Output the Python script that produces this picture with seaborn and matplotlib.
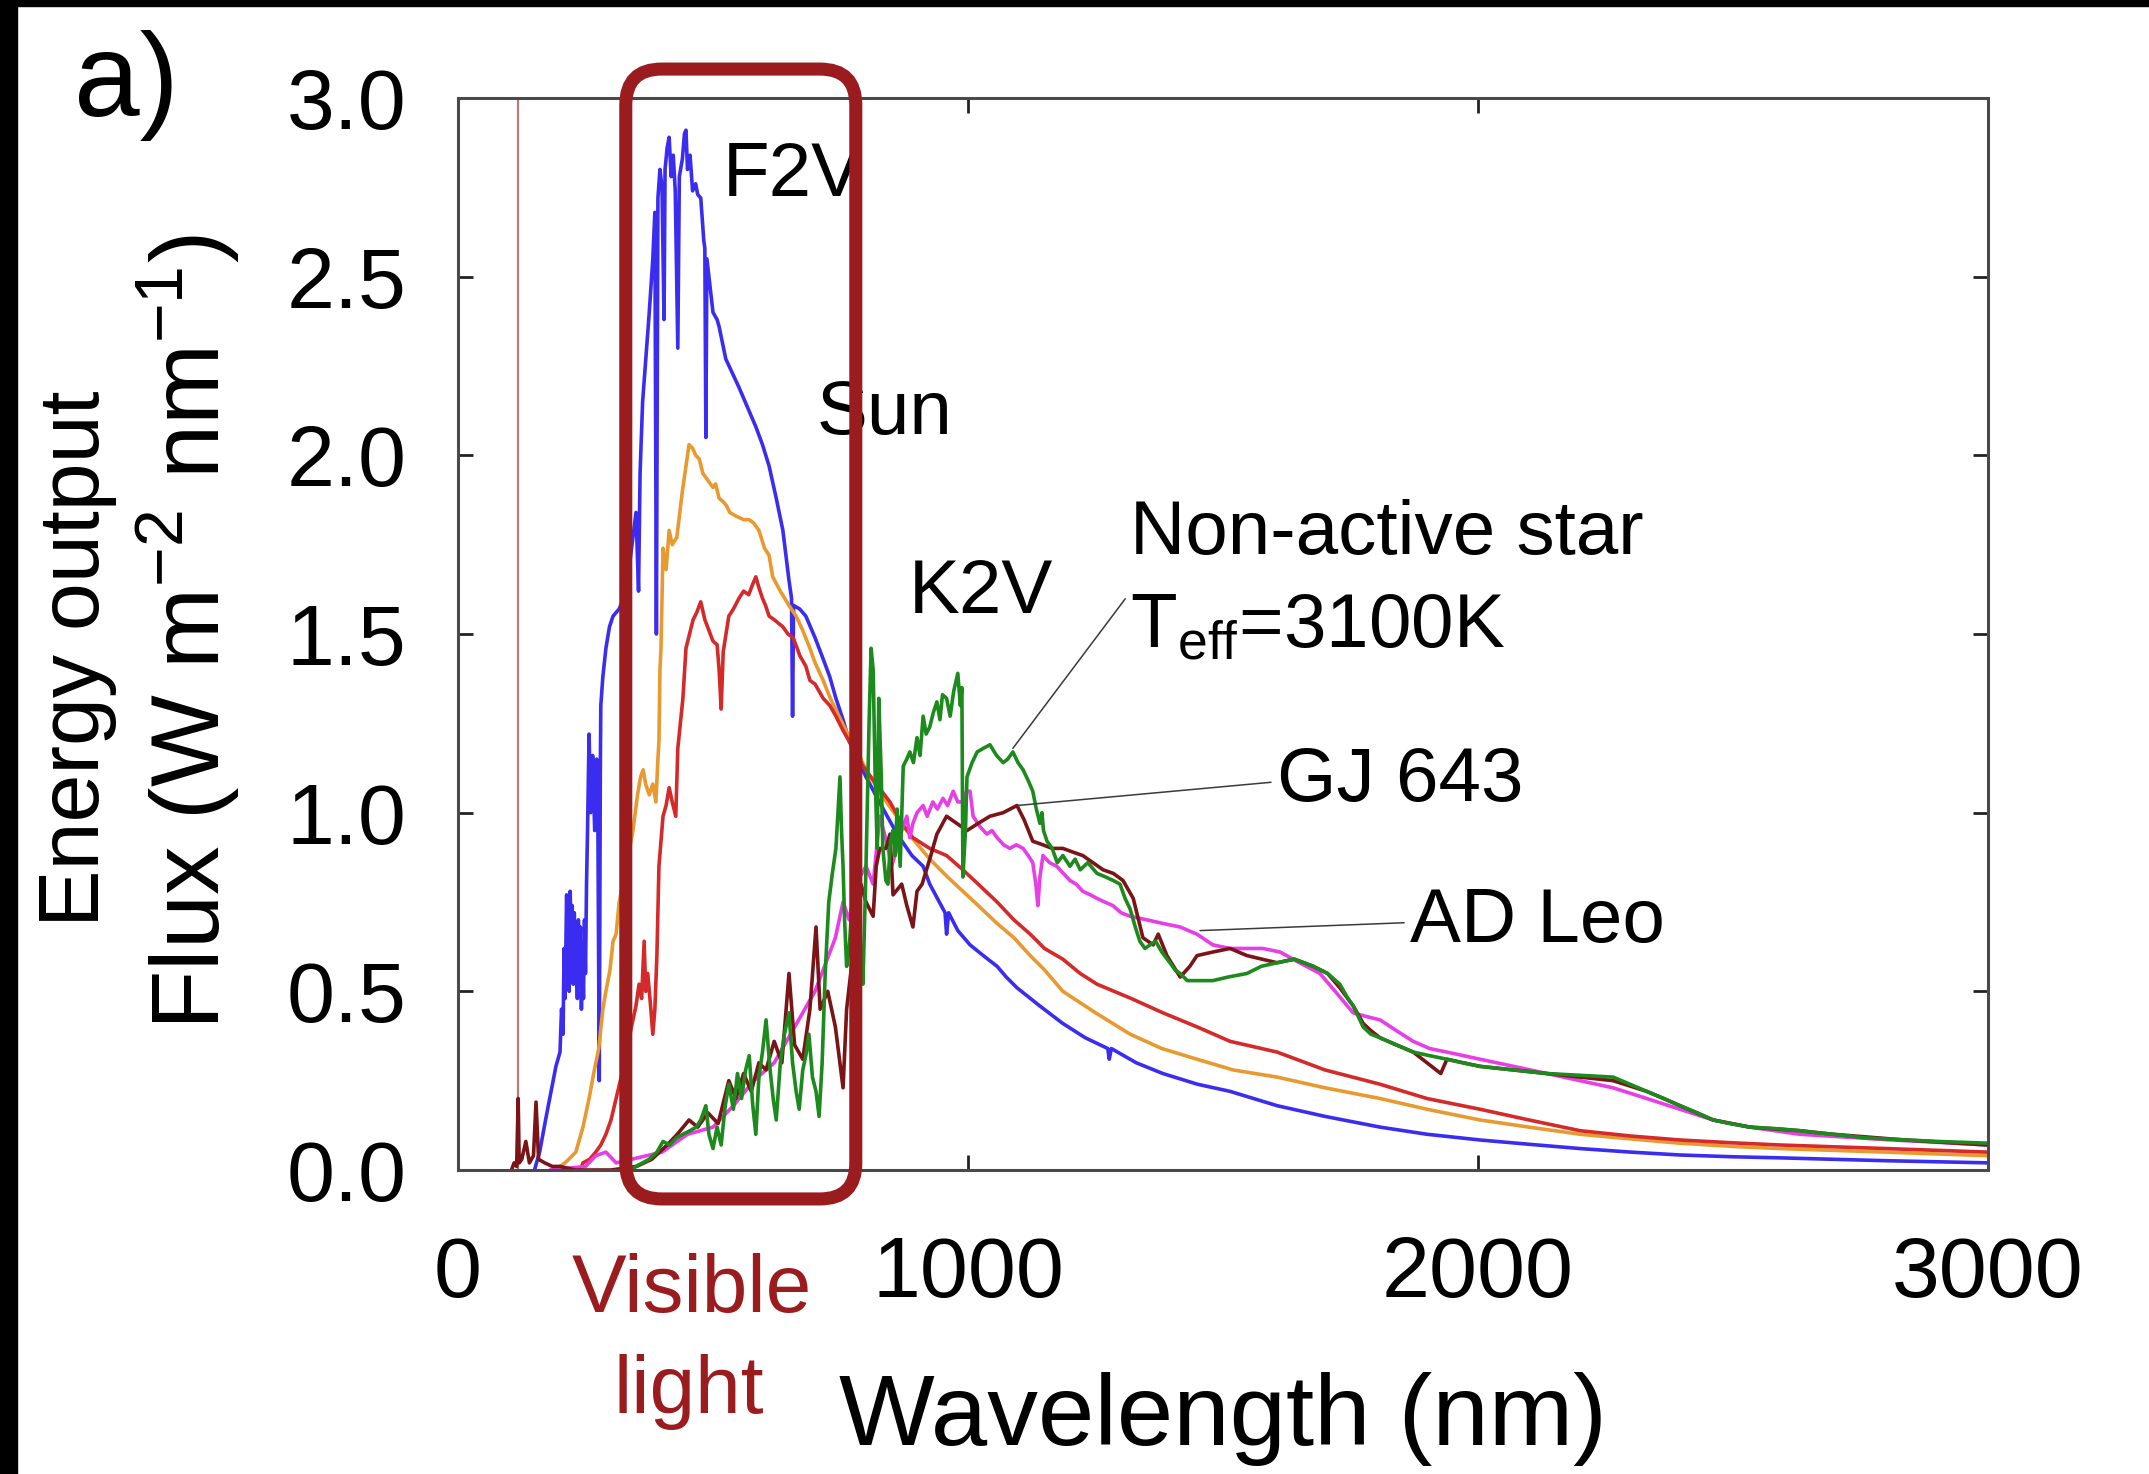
import pandas as pd
import seaborn as sns
import matplotlib.pyplot as plt
from matplotlib.patches import FancyBboxPatch, Rectangle
from matplotlib.transforms import IdentityTransform

# Spectra: (wavelength nm, flux W m-2 nm-1) ###################################

f2v = [(150, 0.0), (160, 0.05), (173, 0.15), (192, 0.29), (200, 0.33), (203, 0.45),
       (206, 0.38), (208, 0.62), (210, 0.48), (213, 0.77), (215, 0.55), (216, 0.70),
       (218, 0.50), (220, 0.78), (222, 0.58), (224, 0.74), (226, 0.52), (228, 0.72),
       (230, 0.60), (232, 0.66), (234, 0.48), (236, 0.70), (238, 0.55), (240, 0.68),
       (242, 0.45), (244, 0.62), (246, 0.48), (248, 0.70), (250, 0.55), (252, 0.80),
       (254, 0.95), (257, 1.22), (260, 1.00), (264, 1.16), (268, 0.95), (272, 1.15),
       (274, 1.05), (277, 0.25), (279, 1.10), (280, 1.30),
       (284, 1.38), (290, 1.46), (297, 1.52), (304, 1.55), (316, 1.57), (330, 1.62),
       (349, 1.84), (354, 1.62), (357, 1.95), (362, 2.15), (375, 2.40), (382, 2.55),
       (386, 2.68), (389, 1.50), (392, 2.72), (396, 2.80), (400, 2.75), (404, 2.38),
       (406, 2.80), (410, 2.86), (414, 2.89), (418, 2.78), (422, 2.84), (426, 2.74),
       (431, 2.30), (434, 2.78), (440, 2.83), (444, 2.90), (447, 2.91), (450, 2.80),
       (455, 2.84), (460, 2.74), (466, 2.76), (470, 2.73), (476, 2.72), (482, 2.60),
       (484, 2.58), (486, 2.05), (488, 2.55), (492, 2.50), (500, 2.40), (508, 2.38),
       (512, 2.36), (525, 2.27), (538, 2.23), (551, 2.19), (566, 2.14), (584, 2.08),
       (597, 2.03), (610, 1.97), (624, 1.88), (637, 1.79), (649, 1.65), (654, 1.60),
       (656, 1.27), (658, 1.58), (670, 1.57), (682, 1.55), (700, 1.49), (716, 1.43),
       (729, 1.38), (741, 1.32), (755, 1.26), (767, 1.20), (780, 1.16), (800, 1.10),
       (830, 1.02), (861, 0.94), (890, 0.88), (912, 0.85), (925, 0.80), (940, 0.76),
       (955, 0.72), (958, 0.66), (962, 0.72), (980, 0.67), (1004, 0.63), (1030, 0.60),
       (1057, 0.57), (1075, 0.54), (1096, 0.51), (1140, 0.46), (1186, 0.41), (1230, 0.37),
       (1274, 0.34), (1277, 0.31), (1281, 0.34), (1330, 0.30), (1382, 0.27), (1450, 0.24),
       (1514, 0.22), (1606, 0.18), (1700, 0.15), (1808, 0.12), (1900, 0.10), (2004, 0.084),
       (2100, 0.072), (2200, 0.06), (2300, 0.05), (2396, 0.042), (2500, 0.037),
       (2592, 0.034), (2800, 0.026), (3000, 0.02)]

sun = [(190, 0.0), (210, 0.02), (231, 0.05), (245, 0.12), (257, 0.20), (266, 0.27),
       (276, 0.34), (284, 0.45), (290, 0.50), (298, 0.56), (304, 0.64), (310, 0.66),
       (316, 0.75), (330, 0.85), (343, 0.95), (352, 1.05), (358, 1.10), (363, 1.12),
       (368, 1.08), (375, 1.05), (382, 1.08), (388, 1.03), (392, 1.15), (394, 1.20),
       (396, 1.40), (398, 1.46), (402, 1.74), (408, 1.68), (414, 1.79), (420, 1.75),
       (429, 1.77), (440, 1.90), (447, 1.97), (453, 2.03), (460, 2.02), (466, 2.00),
       (473, 1.99), (480, 1.95), (490, 1.93), (500, 1.91), (505, 1.92), (512, 1.88),
       (520, 1.87), (526, 1.86), (533, 1.84), (545, 1.83), (560, 1.82), (571, 1.82),
       (580, 1.81), (590, 1.79), (601, 1.74), (610, 1.72), (617, 1.66), (632, 1.62),
       (649, 1.58), (663, 1.55), (676, 1.51), (690, 1.46), (700, 1.42), (716, 1.37),
       (730, 1.32), (747, 1.27), (764, 1.22), (780, 1.18), (800, 1.12), (830, 1.05),
       (860, 0.99), (890, 0.93), (925, 0.87), (960, 0.82), (990, 0.78), (1020, 0.74),
       (1057, 0.69), (1090, 0.65), (1122, 0.60), (1150, 0.56), (1186, 0.50), (1250, 0.44),
       (1318, 0.38), (1380, 0.34), (1449, 0.31), (1520, 0.28), (1606, 0.26), (1700, 0.23),
       (1808, 0.20), (1900, 0.17), (2004, 0.14), (2100, 0.12), (2200, 0.10), (2300, 0.087),
       (2396, 0.075), (2500, 0.066), (2592, 0.06), (2800, 0.05), (3000, 0.04)]

k2v = [(240, 0.0), (245, 0.02), (258, 0.03), (270, 0.05), (280, 0.07), (290, 0.10),
       (300, 0.14), (310, 0.20), (320, 0.26), (330, 0.33), (340, 0.40), (349, 0.46),
       (355, 0.52), (360, 0.48), (365, 0.64), (368, 0.50), (372, 0.55), (377, 0.47),
       (382, 0.38), (386, 0.45), (390, 0.60), (394, 0.85), (398, 0.92), (402, 0.99),
       (408, 1.02), (414, 1.07), (420, 1.03), (427, 0.99), (431, 1.18), (436, 1.25),
       (441, 1.32), (447, 1.46), (454, 1.50), (461, 1.54), (468, 1.56), (476, 1.59),
       (484, 1.54), (492, 1.51), (500, 1.48), (508, 1.47), (512, 1.40), (516, 1.29),
       (520, 1.45), (531, 1.55), (540, 1.57), (551, 1.60), (560, 1.62), (570, 1.61),
       (578, 1.64), (584, 1.66), (590, 1.63), (597, 1.60), (603, 1.58), (610, 1.55),
       (620, 1.54), (637, 1.52), (647, 1.50), (657, 1.49), (665, 1.46), (670, 1.44),
       (682, 1.41), (690, 1.37), (700, 1.36), (716, 1.32), (729, 1.30), (741, 1.27),
       (755, 1.23), (767, 1.20), (780, 1.17), (794, 1.13), (820, 1.08), (847, 1.03),
       (870, 0.97), (892, 0.93), (925, 0.90), (958, 0.88), (990, 0.84), (1020, 0.80),
       (1057, 0.75), (1090, 0.70), (1122, 0.66), (1150, 0.62), (1186, 0.59), (1220, 0.55),
       (1253, 0.52), (1320, 0.48), (1382, 0.44), (1450, 0.40), (1514, 0.36), (1606, 0.33),
       (1700, 0.28), (1808, 0.24), (1900, 0.20), (2004, 0.17), (2100, 0.14), (2200, 0.11),
       (2300, 0.095), (2396, 0.084), (2500, 0.076), (2592, 0.07), (2800, 0.06), (3000, 0.05)]

ad_leo = [(180, 0.0), (250, 0.01), (270, 0.04), (290, 0.05), (310, 0.02), (400, 0.05),
          (450, 0.10), (500, 0.12), (540, 0.18), (580, 0.25), (620, 0.30), (660, 0.40),
          (700, 0.50), (740, 0.65), (755, 0.75), (767, 0.70), (780, 0.80), (800, 0.85),
          (814, 0.80), (827, 0.99), (840, 0.92), (850, 0.85), (861, 0.90), (870, 0.95),
          (880, 0.99), (886, 0.93), (892, 0.97), (900, 1.00), (912, 1.02), (920, 0.99),
          (931, 1.03), (940, 1.01), (951, 1.04), (960, 1.02), (971, 1.06), (980, 1.03),
          (990, 1.03), (997, 1.06), (1004, 1.06), (1010, 0.99), (1024, 0.96), (1037, 0.94),
          (1047, 0.95), (1057, 0.93), (1070, 0.91), (1082, 0.90), (1095, 0.91), (1108, 0.90),
          (1118, 0.88), (1127, 0.86), (1133, 0.80), (1137, 0.74), (1141, 0.82), (1147, 0.88),
          (1160, 0.86), (1174, 0.85), (1187, 0.83), (1200, 0.81), (1212, 0.80), (1225, 0.78),
          (1240, 0.77), (1253, 0.76), (1268, 0.75), (1284, 0.74), (1300, 0.72), (1318, 0.71),
          (1351, 0.70), (1382, 0.69), (1416, 0.68), (1449, 0.66), (1480, 0.63), (1514, 0.62),
          (1545, 0.62), (1578, 0.62), (1612, 0.61), (1650, 0.58), (1690, 0.55), (1720, 0.50),
          (1755, 0.44), (1780, 0.43), (1808, 0.42), (1840, 0.39), (1873, 0.36), (1905, 0.34),
          (1939, 0.33), (2004, 0.31), (2070, 0.29), (2135, 0.27), (2200, 0.25), (2265, 0.23),
          (2331, 0.20), (2396, 0.17), (2461, 0.14), (2533, 0.12), (2631, 0.10), (2800, 0.085),
          (3000, 0.07)]

gj643 = [(105, 0.0), (110, 0.02), (115, 0.01), (118, 0.20), (120, 0.02), (125, 0.03),
         (133, 0.08), (140, 0.02), (148, 0.04), (153, 0.19), (158, 0.03), (170, 0.02),
         (185, 0.01), (200, 0.01), (230, 0.0), (300, 0.0), (350, 0.01), (380, 0.03),
         (410, 0.07), (430, 0.10), (453, 0.14), (470, 0.12), (490, 0.16), (510, 0.13),
         (531, 0.25), (545, 0.20), (560, 0.27), (575, 0.22), (590, 0.30), (604, 0.28),
         (620, 0.36), (635, 0.30), (649, 0.55), (660, 0.35), (676, 0.31), (690, 0.45),
         (702, 0.68), (710, 0.45), (725, 0.50), (740, 0.40), (755, 0.23), (762, 0.45),
         (770, 0.55), (780, 0.70), (790, 0.80), (800, 0.75), (814, 0.71), (820, 0.85),
         (827, 0.90), (839, 0.90), (847, 0.94), (853, 0.77), (870, 0.80), (880, 0.74),
         (892, 0.68), (900, 0.78), (910, 0.80), (925, 0.87), (939, 0.94), (958, 0.99),
         (978, 0.97), (998, 0.95), (1020, 0.97), (1043, 0.99), (1069, 1.00), (1096, 1.02),
         (1110, 0.98), (1127, 0.92), (1147, 0.91), (1165, 0.90), (1186, 0.90), (1205, 0.89),
         (1225, 0.88), (1245, 0.86), (1265, 0.84), (1285, 0.83), (1304, 0.81), (1324, 0.76),
         (1343, 0.65), (1363, 0.63), (1373, 0.66), (1390, 0.60), (1416, 0.54), (1435, 0.57),
         (1449, 0.60), (1480, 0.61), (1514, 0.62), (1547, 0.60), (1606, 0.58), (1640, 0.59),
         (1677, 0.57), (1705, 0.55), (1729, 0.51), (1755, 0.46), (1775, 0.41), (1790, 0.39),
         (1808, 0.37), (1840, 0.35), (1873, 0.33), (1900, 0.30), (1927, 0.27), (1939, 0.31),
         (2004, 0.29), (2135, 0.27), (2265, 0.25), (2331, 0.22), (2396, 0.18), (2461, 0.14),
         (2533, 0.12), (2631, 0.11), (2696, 0.10), (2827, 0.085), (3000, 0.07)]

m3100 = [(340, 0.0), (349, 0.01), (362, 0.02), (375, 0.03), (390, 0.05), (402, 0.08),
         (415, 0.07), (428, 0.09), (441, 0.10), (455, 0.11), (467, 0.12), (476, 0.14),
         (486, 0.18), (492, 0.10), (500, 0.06), (508, 0.12), (516, 0.07), (524, 0.18),
         (531, 0.24), (540, 0.17), (548, 0.27), (556, 0.20), (564, 0.28), (571, 0.32),
         (578, 0.18), (584, 0.10), (590, 0.26), (597, 0.33), (604, 0.42), (612, 0.28),
         (618, 0.20), (624, 0.14), (632, 0.30), (640, 0.38), (649, 0.44), (656, 0.30),
         (663, 0.22), (669, 0.17), (676, 0.28), (682, 0.32), (688, 0.38), (695, 0.26),
         (702, 0.22), (708, 0.15), (714, 0.30), (720, 0.55), (727, 0.75), (734, 0.83),
         (741, 0.90), (745, 1.00), (749, 1.10), (752, 0.95), (755, 0.85), (758, 0.70),
         (762, 0.57), (767, 0.62), (773, 0.75), (780, 0.95), (786, 0.70), (790, 0.60),
         (794, 0.52), (800, 0.85), (806, 1.25), (810, 1.46), (814, 1.40), (818, 1.10),
         (822, 0.90), (825, 1.32), (830, 1.10), (833, 0.90), (839, 0.81), (843, 0.80),
         (848, 0.92), (853, 0.95), (857, 0.88), (861, 1.01), (867, 0.85), (873, 1.13),
         (880, 1.15), (886, 1.17), (893, 1.14), (900, 1.21), (906, 1.16), (912, 1.27),
         (918, 1.22), (925, 1.24), (932, 1.28), (939, 1.31), (945, 1.26), (950, 1.33),
         (958, 1.32), (965, 1.27), (972, 1.34), (980, 1.39), (985, 1.30), (988, 1.35),
         (990, 0.82), (995, 0.95), (998, 1.10), (1008, 1.14), (1018, 1.17), (1030, 1.18),
         (1043, 1.19), (1056, 1.16), (1069, 1.14), (1078, 1.15), (1088, 1.17), (1098, 1.14),
         (1108, 1.12), (1118, 1.09), (1127, 1.06), (1134, 1.01), (1141, 0.97), (1145, 1.00),
         (1148, 0.95), (1155, 0.92), (1165, 0.90), (1175, 0.86), (1186, 0.88), (1200, 0.85),
         (1210, 0.87), (1220, 0.84), (1235, 0.86), (1253, 0.83), (1270, 0.82), (1285, 0.81),
         (1298, 0.80), (1308, 0.76), (1318, 0.73), (1328, 0.68), (1337, 0.64), (1347, 0.62),
         (1357, 0.63), (1368, 0.64), (1380, 0.61), (1396, 0.58), (1406, 0.56), (1416, 0.55),
         (1430, 0.53), (1450, 0.53), (1480, 0.53), (1510, 0.54), (1547, 0.55), (1575, 0.57),
         (1606, 0.58), (1640, 0.59), (1677, 0.57), (1705, 0.55), (1729, 0.52), (1745, 0.48),
         (1755, 0.46), (1765, 0.43), (1775, 0.40), (1790, 0.38), (1808, 0.37), (1840, 0.35),
         (1873, 0.33), (1905, 0.32), (1939, 0.31), (1970, 0.30), (2004, 0.29), (2070, 0.28),
         (2135, 0.27), (2200, 0.265), (2265, 0.26), (2298, 0.24), (2331, 0.22), (2365, 0.20),
         (2396, 0.18), (2430, 0.16), (2461, 0.14), (2494, 0.13), (2533, 0.12), (2592, 0.115),
         (2631, 0.11), (2660, 0.105), (2696, 0.10), (2760, 0.09), (2827, 0.085), (2900, 0.08),
         (3000, 0.075)]

# emission line near 120 nm that runs off the top of the panel
lya_nm = [118, 118]
lya_flux = [0.0, 3.3]

# visible band marked by the rounded box (nm)
visible_nm = [329, 780]

star_order = ["F2V", "Sun", "K2V", "AD Leo", "GJ 643", "Non-active star"]
star_points = [f2v, sun, k2v, ad_leo, gj643, m3100]
palette = {"F2V": "#3b2df0", "Sun": "#e89a30", "K2V": "#d42a2a",
           "AD Leo": "#e83ee8", "GJ 643": "#7b1416", "Non-active star": "#1c8a1c"}

spectra = pd.concat(
    [pd.DataFrame(pts, columns=["wavelength", "flux"]).assign(star=name)
     for name, pts in zip(star_order, star_points)],
    ignore_index=True
)

# Style ########################################################################

sns.set_style("ticks")
plt.rcParams["font.family"] = ["Liberation Sans", "DejaVu Sans"]
plt.rcParams["mathtext.fontset"] = "custom"
plt.rcParams["mathtext.rm"] = "Liberation Sans"
plt.rcParams["mathtext.it"] = "Liberation Sans:italic"
plt.rcParams["text.color"] = "black"
plt.rcParams["axes.labelcolor"] = "black"
plt.rcParams["xtick.color"] = "black"
plt.rcParams["ytick.color"] = "black"

dark_red = "#9b1c1f"
leader = "#3a3a3a"

fig = plt.figure(figsize=(21.49, 14.74), dpi=100)
fig.patch.set_facecolor("white")
ax = fig.add_axes([458 / 2149, 1 - 1170 / 1474, 1530 / 2149, 1072 / 1474])

sns.lineplot(x=lya_nm, y=lya_flux, color="#b87c7c", linewidth=1.6,
             estimator=None, sort=False, ax=ax)
sns.lineplot(data=spectra, x="wavelength", y="flux", hue="star",
             hue_order=star_order, palette=palette, estimator=None,
             sort=False, linewidth=2.6, legend=False, ax=ax)

ax.set_xlim(0, 3000)
ax.set_ylim(0, 3.0)
ax.set_xticks([0, 1000, 2000, 3000])
ax.set_yticks([0.0, 0.5, 1.0, 1.5, 2.0, 2.5, 3.0])
ax.set_yticklabels([f"{v:.1f}" for v in ax.get_yticks()])
for side in ["left", "right", "top", "bottom"]:
    ax.spines[side].set_visible(True)
    ax.spines[side].set_color("#4a4a4a")
    ax.spines[side].set_linewidth(2.2)
ax.tick_params(direction="in", length=11, width=2, color="#222222",
               labelcolor="black", top=True, right=True, labelsize=62)
ax.tick_params(axis="x", pad=47)
ax.tick_params(axis="y", pad=37)

ax.set_xlabel("Wavelength (nm)", fontsize=73)
ax.xaxis.set_label_coords(0.5, -0.2565)
ax.xaxis.label.set_va("baseline")
ax.set_ylabel(r"Flux (W m$^{\mathregular{-2}}$ nm$^{\mathregular{-1}}$)", fontsize=70)
ax.yaxis.set_label_coords(-0.1765, 0.502)
ax.yaxis.label.set_va("center")

# Star labels ##################################################################

lab = dict(fontsize=55, ha="left", va="baseline", color="black")
ax.text(520, 2.727, "F2V", **lab)
ax.text(703, 2.06, "Sun", **lab)
ax.text(883, 1.558, "K2V", **lab)
ax.text(1318, 1.723, "Non-active star", **lab)
ax.annotate(r"T$_{\mathregular{eff}}$=3100K", xy=(1088, 1.18), xytext=(1318, 1.463),
            arrowprops=dict(arrowstyle="-", color=leader, lw=1.1, relpos=(0, 1),
                            shrinkA=2, shrinkB=0), **lab)
ax.annotate("GJ 643", xy=(1096, 1.02), xytext=(1606, 1.032),
            arrowprops=dict(arrowstyle="-", color=leader, lw=1.1, relpos=(0, 0.5),
                            shrinkA=2, shrinkB=0), **lab)
ax.annotate("AD Leo", xy=(1455, 0.67), xytext=(1867, 0.638),
            arrowprops=dict(arrowstyle="-", color=leader, lw=1.1, relpos=(0, 0.5),
                            shrinkA=2, shrinkB=0), **lab)

# Visible light box ############################################################

band_tr = ax.get_xaxis_transform()
p0 = band_tr.transform((visible_nm[0], -0.027))
p1 = band_tr.transform((visible_nm[1], 1.027))
box = FancyBboxPatch((p0[0], p0[1]), p1[0] - p0[0], p1[1] - p0[1],
                     boxstyle="round,pad=0,rounding_size=36",
                     transform=IdentityTransform(), fill=False,
                     edgecolor=dark_red, linewidth=9.4, zorder=10)
fig.add_artist(box)

ax.text(459, -0.397, "Visible", fontsize=59, color=dark_red, ha="center",
        va="baseline", clip_on=False)
ax.text(452, -0.680, "light", fontsize=59, color=dark_red, ha="center",
        va="baseline", clip_on=False)

# Slide decorations ############################################################

fig.text(0.036, 0.553, "Energy output", rotation=90, ha="center", va="center",
         fontsize=62)
fig.text(74 / 2149, 1 - 116 / 1474, "a)", fontsize=85, ha="left", va="baseline")
fig.add_artist(Rectangle((0, 0), 17 / 2149, 1, transform=fig.transFigure,
                         color="black", zorder=20))
fig.add_artist(Rectangle((0, 1 - 6 / 1474), 1, 6 / 1474, transform=fig.transFigure,
                         color="black", zorder=20))

fig.savefig("out.png", dpi=100)
